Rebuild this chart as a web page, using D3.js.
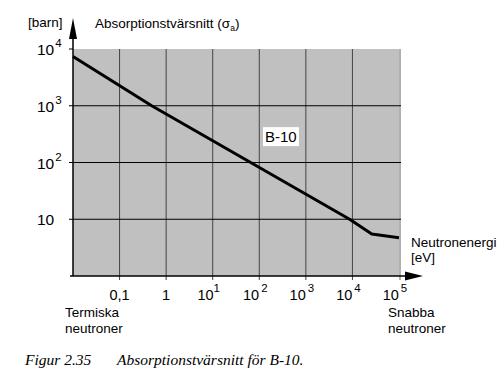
<!DOCTYPE html>
<html lang="sv">
    <head>
        <meta charset="utf-8">
        <title>Absorptionstvärsnitt för B-10</title>
        <script type="text/javascript" src="https://cdn.jsdelivr.net/npm/d3@7"></script>
        <style>
            body { margin: 0; background: #fff; }
            text { font-family: "Liberation Sans", Arial, sans-serif; fill: #000; }
        </style>
    </head>
    <body>
        <script type="text/javascript">

            //Width and height
            var w = 503;
            var h = 376;

            //Curve: energy [eV] and cross-section [barn]
            var energies = [0.01, 0.49, 8700, 26000, 100000];
            var sigmas = [7400, 1000, 10, 5.5, 4.7];

            //Grid / tick values
            var xTicks = [0.1, 1, 10, 100, 1000, 10000, 100000];
            var xTickBase = ["0,1", "1", "10", "10", "10", "10", "10"];
            var xTickSup = ["", "", "1", "2", "3", "4", "5"];
            var yTicks = [10, 100, 1000, 10000];
            var yTickBase = ["10", "10", "10", "10"];
            var yTickSup = ["", "2", "3", "4"];

            //Scales
            var xScale = d3.scaleLog()
                        .domain([0.01, 100000])
                        .range([73, 399]);

            var yScale = d3.scaleLog()
                        .domain([1, 10000])
                        .range([276, 49]);

            var svg = d3.select("body")
                        .append("svg")
                        .attr("width", w)
                        .attr("height", h);

            //Gray plot area
            svg.append("rect")
                .attr("x", xScale(0.01))
                .attr("y", yScale(10000))
                .attr("width", xScale(100000) - xScale(0.01))
                .attr("height", yScale(1) - yScale(10000))
                .attr("fill", "#c0c0c0");

            //Vertical grid lines + ticks below the axis
            svg.selectAll("line.vgrid")
                .data(xTicks.slice(0, 6))
                .enter()
                .append("line")
                .attr("class", "vgrid")
                .attr("x1", function(d) { return xScale(d); })
                .attr("x2", function(d) { return xScale(d); })
                .attr("y1", yScale(10000))
                .attr("y2", yScale(1) + 4)
                .attr("stroke", "#444")
                .attr("stroke-width", 1);

            //right edge
            svg.append("line")
                .attr("x1", xScale(100000) + 1)
                .attr("x2", xScale(100000) + 1)
                .attr("y1", yScale(10000))
                .attr("y2", yScale(1) + 4)
                .attr("stroke", "#b0b0b0")
                .attr("stroke-width", 2);

            //Horizontal grid lines + ticks left of the axis
            svg.selectAll("line.hgrid")
                .data(yTicks)
                .enter()
                .append("line")
                .attr("class", "hgrid")
                .attr("x1", xScale(0.01) - 4)
                .attr("x2", function(d) { return d === 10000 ? xScale(0.01) : xScale(100000) + 2; })
                .attr("y1", function(d) { return yScale(d); })
                .attr("y2", function(d) { return yScale(d); })
                .attr("stroke", "#000")
                .attr("stroke-width", 1);

            //Axes with arrow heads
            svg.append("line")
                .attr("x1", xScale(0.01) - 3)
                .attr("x2", 410)
                .attr("y1", yScale(1))
                .attr("y2", yScale(1))
                .attr("stroke", "#000")
                .attr("stroke-width", 1.5);

            svg.append("path")
                .attr("d", "M405," + (yScale(1) - 4.5) + "L423," + yScale(1) + "L405," + (yScale(1) + 4.5) + "Z")
                .attr("fill", "#000");

            svg.append("line")
                .attr("x1", xScale(0.01))
                .attr("x2", xScale(0.01))
                .attr("y1", yScale(1))
                .attr("y2", 34)
                .attr("stroke", "#000")
                .attr("stroke-width", 1.5);

            svg.append("path")
                .attr("d", "M" + (xScale(0.01) - 4) + ",39L" + xScale(0.01) + ",18L" + (xScale(0.01) + 4) + ",39Z")
                .attr("fill", "#000");

            //The cross-section curve
            var line = d3.line()
                .x(function(d, i) { return xScale(energies[i]); })
                .y(function(d) { return yScale(d); });

            svg.append("path")
                .datum(sigmas)
                .attr("d", line)
                .attr("fill", "none")
                .attr("stroke", "#000")
                .attr("stroke-width", 3)
                .attr("stroke-linejoin", "round");

            //B-10 label on white box
            svg.append("rect")
                .attr("x", xScale(120))
                .attr("y", yScale(420))
                .attr("width", 36)
                .attr("height", 19)
                .attr("fill", "#fff");

            svg.append("text")
                .attr("x", xScale(120) + 2)
                .attr("y", yScale(420) + 15)
                .attr("font-size", "15px")
                .text("B-10");

            //X tick labels
            var xLab = svg.selectAll("text.xlab")
                .data(xTicks)
                .enter()
                .append("text")
                .attr("class", "xlab")
                .attr("x", function(d, i) { return xScale(d) - (xTickSup[i] ? 4 : 0); })
                .attr("y", 300)
                .attr("font-size", "14.5px")
                .attr("text-anchor", "middle");

            xLab.append("tspan")
                .text(function(d, i) { return xTickBase[i]; });

            xLab.append("tspan")
                .attr("dx", function(d, i) { return i > 2 ? 2 : 0; })
                .attr("dy", -8)
                .attr("font-size", "11.5px")
                .text(function(d, i) { return xTickSup[i]; });

            //Y tick labels
            var yLab = svg.selectAll("text.ylab")
                .data(yTicks)
                .enter()
                .append("text")
                .attr("class", "ylab")
                .attr("x", 37)
                .attr("y", function(d) { return yScale(d) + 6; })
                .attr("font-size", "15.5px");

            yLab.append("tspan")
                .text(function(d, i) { return yTickBase[i]; });

            yLab.append("tspan")
                .attr("dx", 1)
                .attr("dy", -8)
                .attr("font-size", "11.5px")
                .text(function(d, i) { return yTickSup[i]; });

            //Axis titles
            svg.append("text")
                .attr("x", 28)
                .attr("y", 27)
                .attr("font-size", "13.5px")
                .text("[barn]");

            var yTitle = svg.append("text")
                .attr("x", 95)
                .attr("y", 28)
                .attr("font-size", "13.5px");
            yTitle.append("tspan").text("Absorptionstvärsnitt (σ");
            yTitle.append("tspan").attr("dy", 3).attr("font-size", "8.5px").text("a");
            yTitle.append("tspan").attr("dy", -3).text(")");

            svg.append("text")
                .attr("x", 411)
                .attr("y", 247)
                .attr("font-size", "13.5px")
                .text("Neutronenergi");

            svg.append("text")
                .attr("x", 411)
                .attr("y", 262)
                .attr("font-size", "13.5px")
                .text("[eV]");

            //Thermal / fast notes
            svg.append("text").attr("x", 65).attr("y", 317).attr("font-size", "13.5px").text("Termiska");
            svg.append("text").attr("x", 65).attr("y", 333).attr("font-size", "13.5px").text("neutroner");
            svg.append("text").attr("x", 388).attr("y", 317).attr("font-size", "13.5px").text("Snabba");
            svg.append("text").attr("x", 388).attr("y", 333).attr("font-size", "13.5px").text("neutroner");

            //Caption
            svg.append("text")
                .attr("x", 25)
                .attr("y", 365)
                .attr("font-size", "15.5px")
                .attr("font-style", "italic")
                .style("font-family", "'Liberation Serif', 'Times New Roman', serif")
                .text("Figur 2.35");

            svg.append("text")
                .attr("x", 117)
                .attr("y", 365)
                .attr("font-size", "15.5px")
                .attr("font-style", "italic")
                .style("font-family", "'Liberation Serif', 'Times New Roman', serif")
                .text("Absorptionstvärsnitt för B-10.");

        </script>
    </body>
</html>
